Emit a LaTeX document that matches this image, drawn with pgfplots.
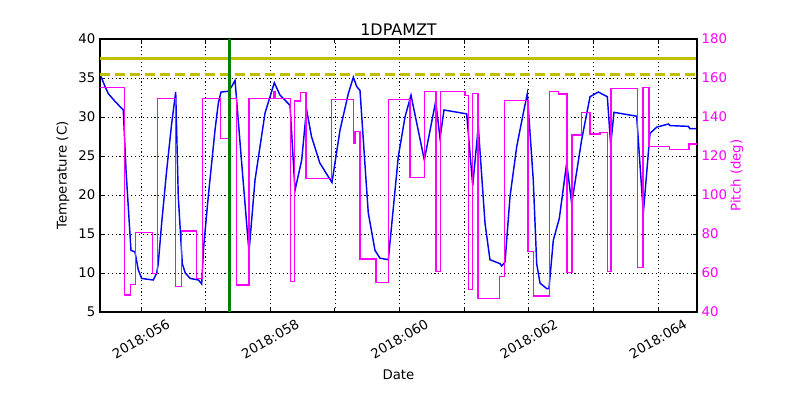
\documentclass[border=0pt,12pt]{standalone}
\usepackage{fontspec}
\setmainfont{DejaVu Sans}
\usepackage{pgfplots}
\pgfplotsset{compat=1.18}
\definecolor{mplblue}{rgb}{0,0,1}
\definecolor{mplmag}{rgb}{1,0,1}
\definecolor{mplyel}{rgb}{0.75,0.75,0}
\definecolor{mplgreen}{rgb}{0,0.5,0}
\begin{document}
\begin{tikzpicture}
\pgfplotsset{
  base/.style={
    at={(0,0)}, anchor=south west,
    scale only axis, width=537.3bp, height=245.7bp,
    xmin=55.3656, xmax=64.6035,
    xtick={56,58,...,64},
    minor xtick={57,59,...,63},
    tick align=inside,
    major tick length=4bp,
    minor tick length=4bp,
    every tick/.style={black, line width=0.8bp},
    axis line style={black, line width=1bp},
    /pgf/number format/assume math mode=true,
    tick label style={font=\fontsize{12}{14}\selectfont},
    label style={font=\fontsize{12}{14}\selectfont},
    clip=true,
  }
}
\begin{axis}[base,
  ymin=5, ymax=40, ytick={5,10,...,40},
  ytick pos=left, xtick pos=both,
  xticklabels={2018:056,2018:058,2018:060,2018:062,2018:064},
  xticklabel style={yshift=-24.3bp, rotate=30, anchor=center},
  grid=both,
  major grid style={black, line width=0.5bp, dash pattern=on 1bp off 2.5bp},
  minor grid style={black, line width=0.5bp, dash pattern=on 1bp off 2.5bp},
  title={1DPAMZT},
  every axis title/.style={at={(axis description cs:0.5,1)}, yshift=8.5bp, anchor=center, font=\fontsize{14.4}{17}\selectfont},
  xlabel={Date},
  every axis x label/.style={at={(axis description cs:0.5,0)}, yshift=-56.7bp, anchor=center},
  ylabel={Temperature (C)},
  every axis y label/.style={at={(axis description cs:0,0.5)}, xshift=-33.3bp, rotate=90, anchor=center},
]
\addplot[mplyel, line width=2.7bp, no marks] coordinates {(55.3656,37.45) (64.6035,37.45)};
\addplot[mplyel, line width=2.7bp, no marks, dash pattern=on 9bp off 4.5bp] coordinates {(55.3656,35.4) (64.6035,35.4)};
\addplot[mplblue, line width=1.3bp, no marks] coordinates {
(55.381,35.2) (55.443,33.9) (55.494,33.0) (55.598,32.0) (55.726,30.9) (55.768,23.2)
(55.845,12.9) (55.907,12.7) (55.958,10.4) (56.011,9.3) (56.190,9.1) (56.243,10.0)
(56.267,11.2) (56.320,16.4) (56.398,23.2) (56.475,29.2) (56.537,33.2) (56.577,19.8)
(56.639,11.2) (56.685,10.0) (56.762,9.3) (56.891,9.1) (56.939,8.6) (56.970,13.4)
(57.041,19.8) (57.145,28.3) (57.197,31.8) (57.238,33.2) (57.351,33.3) (57.403,33.9)
(57.455,34.7) (57.558,24.1) (57.671,12.7) (57.764,21.9) (57.919,30.5) (58.063,34.4)
(58.151,32.8) (58.306,31.5) (58.383,20.6) (58.487,24.5) (58.561,31.0) (58.638,27.5)
(58.767,24.1) (58.955,21.6) (59.079,28.3) (59.208,33.0) (59.286,35.1) (59.338,33.9)
(59.389,33.4) (59.482,21.9) (59.517,17.7) (59.621,12.9) (59.698,11.9) (59.827,11.7)
(59.981,24.9) (60.085,30.0) (60.178,32.8) (60.384,24.5) (60.560,32.0) (60.627,27.3)
(60.689,30.9) (61.040,30.4) (61.133,21.2) (61.219,28.8) (61.323,16.4) (61.400,11.7)
(61.555,11.2) (61.581,10.9) (61.633,11.4) (61.710,19.8) (61.814,26.2) (61.916,30.5)
(61.978,33.0) (62.070,21.9) (62.123,11.2) (62.174,8.7) (62.278,8.0) (62.313,8.0)
(62.380,14.2) (62.473,17.0) (62.587,24.1) (62.665,18.9) (62.819,27.1) (62.948,32.6)
(63.076,33.2) (63.216,32.6) (63.268,26.4) (63.319,30.6) (63.670,30.1) (63.773,17.7)
(63.876,27.9) (63.980,28.7) (64.160,29.1) (64.186,28.9) (64.469,28.8) (64.495,28.5)
(64.603,28.5)
};
\end{axis}
\begin{axis}[base,
  ymin=40, ymax=180, ytick={40,60,...,180},
  axis x line=none, axis y line*=right,
  yticklabel style={color=mplmag},
  ylabel={Pitch (deg)},
  every axis y label/.style={at={(axis description cs:1,0.5)}, xshift=36bp, rotate=90, anchor=center, color=mplmag},
]
\addplot[mplmag, line width=1.3bp, no marks, const plot] coordinates {
(55.366,155.0) (55.745,48.7) (55.841,54.2) (55.918,80.9) (56.181,59.8) (56.252,149.6)
(56.534,53.0) (56.630,81.5) (56.862,57.3) (56.949,149.6) (57.233,129.1) (57.366,149.6)
(57.481,53.8) (57.671,149.6) (58.047,153.0) (58.073,149.6) (58.313,55.5) (58.375,148.2)
(58.471,152.7) (58.553,108.6) (58.951,149.1) (59.285,126.5) (59.311,132.5) (59.389,67.2)
(59.636,55.0) (59.827,149.1) (60.163,108.9) (60.384,153.0) (60.565,60.7) (60.635,153.0)
(61.014,150.9) (61.071,51.6) (61.130,152.1) (61.215,47.0) (61.547,58.1) (61.625,148.4)
(61.988,70.9) (62.073,48.2) (62.321,153.0) (62.457,151.8) (62.592,60.3) (62.672,130.8)
(62.819,142.2) (62.948,131.3) (63.102,132.0) (63.221,60.7) (63.276,154.7) (63.683,62.7)
(63.765,155.0) (63.861,124.8) (64.175,123.4) (64.480,126.2) (64.6035,126.2)
};
\addplot[mplgreen, line width=2.7bp, no marks] coordinates {(57.362,40) (57.362,180)};
\end{axis}
\pgfresetboundingbox
\path[use as bounding box] (-90bp,-79.2bp) rectangle (630bp,280.8bp);
\end{tikzpicture}
\end{document}
